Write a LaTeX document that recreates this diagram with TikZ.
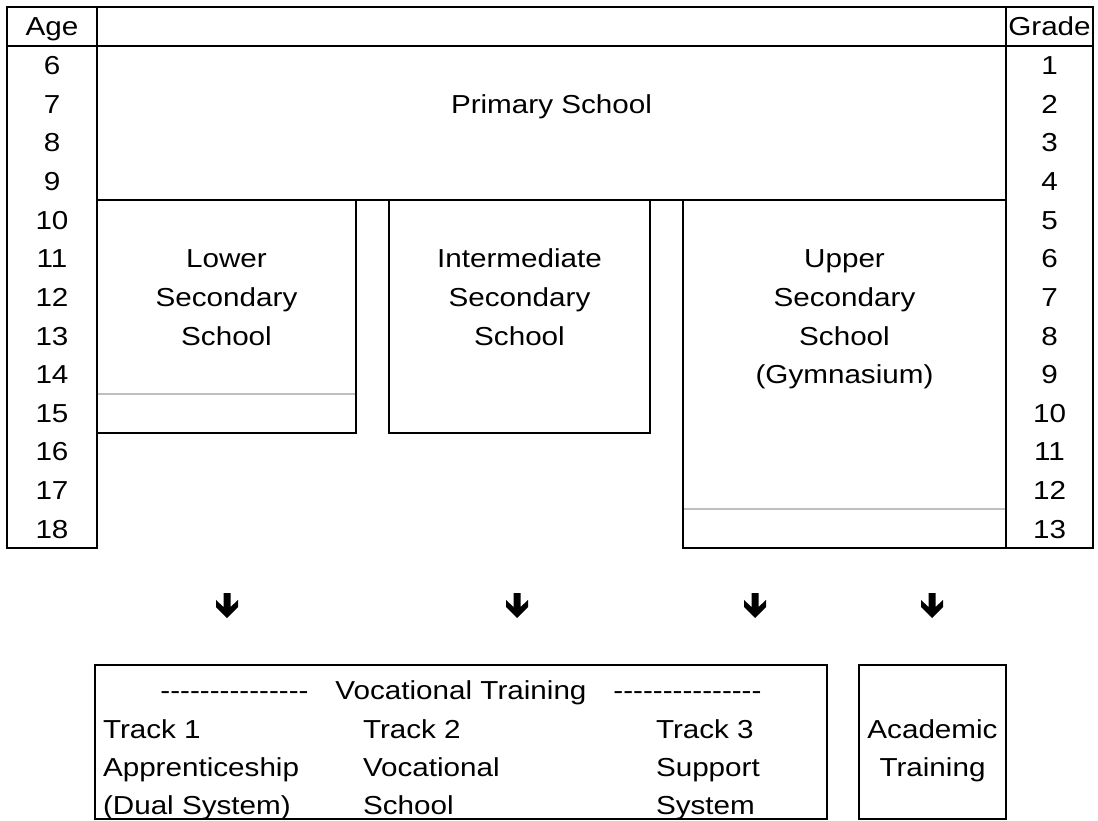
\documentclass[tikz,border=0pt]{standalone}
\usepackage{fontspec}
\newfontfamily\chartfont{Liberation Sans}[FakeStretch=1.14]

\begin{document}
\begin{tikzpicture}[x=1pt, y=-1pt, line width=2pt]
    \tikzstyle{every node}=[inner sep=0pt, font=\chartfont\fontsize{26}{31}\selectfont]
    \tikzstyle{cell}=[anchor=base]
    \tikzstyle{trackline}=[anchor=base west]
    \tikzstyle{divider}=[draw=black!25]
    \useasboundingbox (0,0) rectangle (1098,821);

% The following code draws the age/grade grid, the school boxes and the training paths after school.

    \draw[divider] (97,394) -- (356,394);
    \draw[divider] (683,509) -- (1006,509);

    \draw (7,7) rectangle (97,548);
    \draw (1006,7) rectangle (1093,548);
    \draw (97,7) -- (1006,7);
    \draw (7,46) -- (1093,46);
    \draw (97,200) -- (1006,200);
    \draw (97,200) rectangle (356,433);
    \draw (389,200) rectangle (650,433);
    \draw (683,200) rectangle (1006,548);

    \node [cell] (agehead) at (52,36) {Age};
    \node [cell] (gradehead) at (1049.5,36) {Grade};
    \foreach \a [count=\k from 0] in {6,...,18} \node [cell] (age\a) at (52,{74.8+38.6*\k}) {\a};
    \foreach \g [count=\k from 0] in {1,...,13} \node [cell] (grade\g) at (1049.5,{74.8+38.6*\k}) {\g};

    \node [cell] (primary) at (551.5,113.4) {Primary School};
    \foreach \t [count=\k from 5] in {Lower,Secondary,School} \node [cell] (lower\k) at (226.5,{74.8+38.6*\k}) {\t};
    \foreach \t [count=\k from 5] in {Intermediate,Secondary,School} \node [cell] (inter\k) at (519.5,{74.8+38.6*\k}) {\t};
    \foreach \t [count=\k from 5] in {Upper,Secondary,School,(Gymnasium)} \node [cell] (upper\k) at (844.5,{74.8+38.6*\k}) {\t};

    \foreach \x in {227,517,755,932} \fill (\x-3.5,593) -- (\x+3.5,593) -- (\x+3.5,607) -- (\x+11,600) -- (\x+11,607) -- (\x,618) -- (\x-11,607) -- (\x-11,600) -- (\x-3.5,607) -- cycle;

    \draw (95,665) rectangle (827,819);
    \draw (859,665) rectangle (1006,819);
    \node [cell] (vocational) at (461,699) {---------------\hspace{27pt}Vocational Training\hspace{27pt}---------------};
    \foreach \t [count=\k from 0] in {Track 1,Apprenticeship,(Dual System)} \node [trackline] (trackA\k) at (102,{738+38.4*\k}) {\t};
    \foreach \t [count=\k from 0] in {Track 2,Vocational,School} \node [trackline] (trackB\k) at (362,{738+38.4*\k}) {\t};
    \foreach \t [count=\k from 0] in {Track 3,Support,System} \node [trackline] (trackC\k) at (655,{738+38.4*\k}) {\t};
    \node [cell] (academic) at (932.5,738) {Academic};
    \node [cell] (training) at (932.5,776.4) {Training};
\end{tikzpicture}
\end{document}
